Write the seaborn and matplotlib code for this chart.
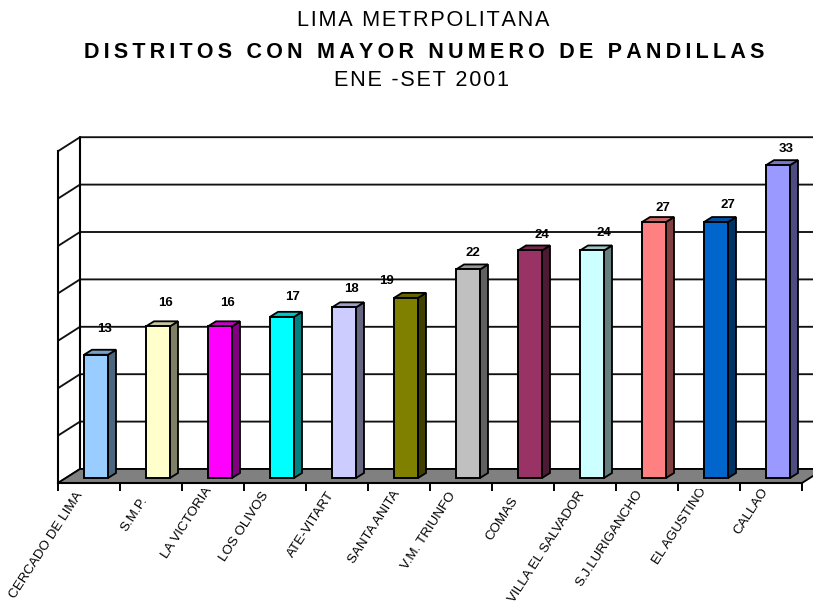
import matplotlib
matplotlib.use("Agg")
import matplotlib.pyplot as plt
import seaborn as sns
import pandas as pd
from matplotlib.colors import to_rgb
from matplotlib.patches import Polygon
from matplotlib.transforms import Affine2D, Bbox

districts = ["CERCADO DE LIMA", "S.M.P.", "LA VICTORIA", "LOS OLIVOS", "ATE-VITART", "SANTA ANITA",
             "V.M. TRIUNFO", "COMAS", "VILLA EL SALVADOR", "S.J.LURIGANCHO", "EL AGUSTINO", "CALLAO"]
cases = [13, 16, 16, 17, 18, 19, 22, 24, 24, 27, 27, 33]
face_colors = ["#99CCFF", "#FFFFCC", "#FF00FF", "#00FFFF", "#CCCCFF", "#808000",
               "#C0C0C0", "#993366", "#CCFFFF", "#FF8080", "#0066CC", "#9999FF"]
label_dx = [5, 3, 3, 7, 3, -24, 1, 8, 8, 5, 8, 4]
label_dy = [26, 23, 23, 20, 18, 17, 16, 15, 17, 14, 17, 16]
tick_dx = [-14, -11, -9, -14, -10, -7, -13, -12, -8, -12, -10, -10]
tick_dy = [-3, 2, -8, -3, -3, -4, -3, 2, -4, -5, -7, -7]
grid_values = [0, 5, 10, 15, 20, 25, 30, 35]

W, H = 813, 608
LEFT, RIGHT, BOTTOM = 58, 802, 483
UNIT_Y = 9.48
TOP = BOTTOM - 35 * UNIT_Y
UX = 12 / (RIGHT - LEFT)   # data units per pixel, horizontally
UY = 1 / UNIT_Y            # data units per pixel, vertically

sns.set_theme(style="white")
plt.rcParams["font.family"] = ["Liberation Sans", "DejaVu Sans"]

fig = plt.figure(figsize=(W / 100, H / 100), dpi=100, facecolor="white")
ax = fig.add_axes([LEFT / W, 1 - BOTTOM / H, (RIGHT - LEFT) / W, (BOTTOM - TOP) / H])
ax.patch.set_alpha(0)

df = pd.DataFrame({"distrito": districts, "casos": cases})
sns.barplot(data=df, x="distrito", y="casos", hue="distrito", palette=face_colors, width=24 * UX,
            edgecolor="black", linewidth=1.4, saturation=1, legend=False, ax=ax, zorder=6)
bars = [q for q in ax.patches if q.get_zorder() == 6]
ax.set_xlim(-0.5, 11.5)
ax.set_ylim(0, 35)
ax.set_xlabel("")
ax.set_ylabel("")
ax.yaxis.set_visible(False)

# Chart box: floor and walls
WX, WY = 22 * UX, 14 * UY
ax.add_patch(Polygon([(-0.5, 0), (-0.5 + WX, WY), (11.5 + WX, WY), (11.5, 0)], closed=True, fc="#808080",
                     ec="black", lw=1.3, clip_on=False, zorder=2))
for v in grid_values:
    ax.plot([-0.5, -0.5 + WX, 11.5 + WX], [v, v + WY, v + WY], color="#111111", lw=1.35,
            clip_on=False, zorder=1, solid_joinstyle="miter")
ax.plot([-0.5 + WX, -0.5 + WX], [WY, 35 + WY], color="black", lw=1.5, clip_on=False, zorder=1)

# Bars: move into the depth of the floor, add side and top faces
DX, DY = 8 * UX, 5 * UY
SHIFT_X, SHIFT_Y = 7 * UX, 5 * UY
for i, p in enumerate(bars):
    p.set_x(p.get_x() + SHIFT_X)
    p.set_y(p.get_y() + SHIFT_Y)
    x0, x1 = p.get_x(), p.get_x() + p.get_width()
    y0, y1 = p.get_y(), p.get_y() + p.get_height()
    rgb = to_rgb(face_colors[i])
    side = tuple(c * 0.5 for c in rgb)
    top = tuple(c * 0.78 for c in rgb)
    ax.add_patch(Polygon([(x1, y0), (x1 + DX, y0 + DY), (x1 + DX, y1 + DY), (x1, y1)], closed=True,
                         fc=side, ec="black", lw=1.3, clip_on=False, zorder=5))
    ax.add_patch(Polygon([(x0, y1), (x0 + DX, y1 + DY), (x1 + DX, y1 + DY), (x1, y1)], closed=True,
                         fc=top, ec="black", lw=1.3, clip_on=False, zorder=5))
    ax.annotate(str(cases[i]), xy=((x0 + x1) / 2, y1), xytext=((label_dx[i] + 4) * 0.72, label_dy[i] * 0.72),
                textcoords="offset points", ha="center", va="center", fontsize=9.5, fontweight="bold",
                color="black", annotation_clip=False, zorder=8)

# Front axis
sns.despine(ax=ax, top=True, right=True, left=False, bottom=False)
for s in ("left", "bottom"):
    ax.spines[s].set_linewidth(1.5)
    ax.spines[s].set_color("black")
    ax.spines[s].set_zorder(7)
ax.set_xticks([i - 0.5 for i in range(13)])
ax.set_xticklabels([])
ax.tick_params(axis="x", which="major", length=5.5, width=1.4, color="black", direction="out", bottom=True)
ax.set_xticks(range(12), minor=True)
ax.set_xticklabels(districts, minor=True, rotation=57, ha="right", va="top", rotation_mode="anchor",
                   fontsize=9.6, color="black")
ax.tick_params(axis="x", which="minor", length=0, pad=7)
clip = Bbox([[0, 0], [W, H - 489]])
for lab, dx, dy in zip(ax.get_xticklabels(minor=True), tick_dx, tick_dy):
    lab.set_transform(lab.get_transform() + Affine2D().translate(dx, -dy))
    lab.set_clip_on(True)
    lab.set_clip_box(clip)


def spaced(text, gap):
    return gap.join(text)


# Titles
fig.text(423.5 / W, 1 - 21 / H, spaced("LIMA METRPOLITANA", "\u200a"), ha="center", va="center",
         fontsize=15.6, color="black")
fig.text(424.5 / W, 1 - 52 / H, spaced("DISTRITOS CON MAYOR NUMERO DE PANDILLAS", "\u2009"), ha="center",
         va="center", fontsize=15.5, fontweight="bold", color="black")
fig.text(421 / W, 1 - 81 / H, spaced("ENE -SET 2001", "\u200a"), ha="center", va="center",
         fontsize=15.6, color="black")

fig.savefig("out.png", dpi=100, facecolor="white")
